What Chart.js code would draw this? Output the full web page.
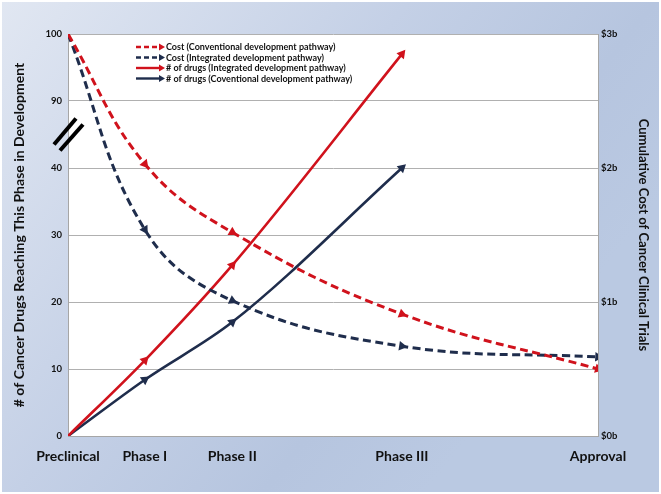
<!DOCTYPE html>
<html>
<head>
<meta charset="utf-8">
<script src="https://cdn.jsdelivr.net/npm/chart.js@4/dist/chart.umd.min.js"></script>
<style>
  html, body { margin: 0; padding: 0; background: #fff; }
  #wrap { width: 661px; height: 494px; }
</style>
</head>
<body>
<div id="wrap"><canvas id="pipelineChart" width="661" height="494"></canvas></div>
<script>
/* ------------------------------------------------------------
   Data
   ------------------------------------------------------------ */
const stages = ['Preclinical', 'Phase I', 'Phase II', 'Phase III', 'Approval'];
const stagePos = [0, 14.5, 31, 63, 100];               // relative place on the timeline
const yTickLabels = ['0', '10', '20', '30', '40', '90', '100'];
const costTickLabels = ['$0b', '$1b', '$2b', '$3b'];

const costConventional = [3.0, 2.03, 1.52, 0.91, 0.5];   // $ billions
const costIntegrated   = [3.0, 1.54, 1.01, 0.67, 0.59];
const drugsIntegrated   = [0, 11.3, 25.5, 97];          // # of drugs (Preclinical..Phase III)
const drugsConventional = [0, 8.4, 17.0, 40];

const RED = '#d0121c';
const NAVY = '#1f2d4c';
const FONT = "'Lato', 'Liberation Sans', sans-serif";

// left axis is broken between 40 and 90
const toBroken = v => (v <= 40 ? v : v - 40);

const toPoints = (vals, fn) => vals.map((v, i) => ({ x: stagePos[i], y: fn ? fn(v) : v }));

/* arrow head rotation follows the line direction */
function arrowRotation(ctx) {
  if (ctx.dataIndex === undefined) return 0;
  const chart = ctx.chart;
  const ds = chart.data.datasets[ctx.datasetIndex];
  const xs = chart.scales.x, ys = chart.scales[ds.yAxisID];
  if (!xs || !ys) return 0;
  const d = ds.data, i = ctx.dataIndex;
  const a = d[Math.max(i - 1, 0)], b = d[Math.min(i + 1, d.length - 1)];
  const dx = xs.getPixelForValue(b.x) - xs.getPixelForValue(a.x);
  const dy = ys.getPixelForValue(b.y) - ys.getPixelForValue(a.y);
  return Math.atan2(dy, dx) * 180 / Math.PI + 90;
}

function series(label, data, color, dashed, axis) {
  return {
    label: label,
    data: data,
    yAxisID: axis,
    borderColor: color,
    backgroundColor: color,
    borderWidth: dashed ? 3 : 2.6,
    borderDash: dashed ? [8, 4.5] : [],
    tension: dashed ? 0.4 : 0,
    cubicInterpolationMode: dashed ? 'default' : 'monotone',
    pointStyle: 'triangle',
    pointRadius: c => (c.dataIndex === 0 ? 0 : 5.5),
    pointRotation: arrowRotation,
    pointBorderWidth: 0,
    dashed: dashed
  };
}

/* ------------------------------------------------------------
   Plugins: background, break marks, legend
   ------------------------------------------------------------ */
const backdrop = {
  id: 'backdrop',
  beforeDraw(chart) {
    const { ctx, width, height, chartArea: a } = chart;
    ctx.save();
    ctx.fillStyle = '#ffffff';
    ctx.fillRect(0, 0, width, height);
    const g = ctx.createLinearGradient(0, 0, 500, 400);
    g.addColorStop(0, '#e1e7f2');
    g.addColorStop(0.5, '#c4d0e6');
    g.addColorStop(0.8, '#b6c5df');
    g.addColorStop(1, '#bac9e2');
    ctx.fillStyle = g;
    ctx.fillRect(2, 2, width - 4, height - 4);
    ctx.fillStyle = '#ffffff';
    ctx.fillRect(a.left, a.top, a.right - a.left, a.bottom - a.top);
    ctx.restore();
  }
};

const axisBreak = {
  id: 'axisBreak',
  afterDraw(chart) {
    const { ctx } = chart;
    const y = chart.scales.y.getPixelForValue(45);
    const x = chart.scales.y.right;
    ctx.save();
    ctx.strokeStyle = '#000';
    ctx.lineWidth = 4;
    [[-14, 10, 8, -16], [-8, 16, 15, -10]].forEach(s => {
      ctx.beginPath();
      ctx.moveTo(x + s[0], y + s[1]);
      ctx.lineTo(x + s[2], y + s[3]);
      ctx.stroke();
    });
    ctx.restore();
  }
};

const arrowLegend = {
  id: 'arrowLegend',
  afterDraw(chart) {
    const { ctx } = chart;
    const x0 = 136, x1 = 160, tx = 166;
    let y = 47;
    ctx.save();
    ctx.font = 'bold 9px ' + FONT;
    ctx.textBaseline = 'middle';
    chart.data.datasets.forEach(ds => {
      ctx.strokeStyle = ds.borderColor;
      ctx.fillStyle = ds.borderColor;
      ctx.lineWidth = 2.4;
      ctx.setLineDash(ds.dashed ? [5, 3] : []);
      ctx.beginPath();
      ctx.moveTo(x0, y);
      ctx.lineTo(x1, y);
      ctx.stroke();
      ctx.setLineDash([]);
      ctx.beginPath();
      ctx.moveTo(x1 - 1, y - 3.5);
      ctx.lineTo(x1 + 5, y);
      ctx.lineTo(x1 - 1, y + 3.5);
      ctx.closePath();
      ctx.fill();
      ctx.fillStyle = '#111';
      ctx.fillText(ds.label, tx, y + 0.5);
      y += 10.5;
    });
    ctx.restore();
  }
};

/* ------------------------------------------------------------
   Chart
   ------------------------------------------------------------ */
new Chart(document.getElementById('pipelineChart'), {
  type: 'line',
  data: {
    datasets: [
      series('Cost (Conventional development pathway)', toPoints(costConventional), RED, true, 'y2'),
      series('Cost (Integrated development pathway)', toPoints(costIntegrated), NAVY, true, 'y2'),
      series('# of drugs (Integrated development pathway)', toPoints(drugsIntegrated, toBroken), RED, false, 'y'),
      series('# of drugs (Coventional development pathway)', toPoints(drugsConventional, toBroken), NAVY, false, 'y')
    ]
  },
  options: {
    responsive: false,
    animation: false,
    devicePixelRatio: 1,
    events: [],
    layout: { padding: { top: 34, left: 0, right: 0, bottom: 0 } },
    plugins: { legend: { display: false }, tooltip: { enabled: false } },
    scales: {
      x: {
        type: 'linear',
        min: 0,
        max: 100,
        afterBuildTicks: s => { s.ticks = stagePos.map(v => ({ value: v })); },
        afterFit: s => { s.height = 58; },
        grid: { display: false, drawTicks: false },
        border: { display: true, color: '#a6a6a6' },
        ticks: {
          autoSkip: false,
          maxRotation: 0,
          padding: 12,
          color: '#111',
          font: { family: FONT, size: 14, weight: 'bold' },
          callback: (v, i) => stages[i]
        }
      },
      y: {
        position: 'left',
        min: 0,
        max: 60,
        afterBuildTicks: s => { s.ticks = yTickLabels.map((t, i) => ({ value: i * 10 })); },
        afterFit: s => { s.width = 68; },
        grid: { color: '#b0b0b0', drawTicks: false },
        border: { display: true, color: '#a6a6a6' },
        ticks: {
          padding: 6,
          color: '#111',
          font: { family: FONT, size: 9.5, weight: 'bold' },
          callback: (v, i) => yTickLabels[i]
        },
        title: {
          display: true,
          text: '# of Cancer Drugs Reaching This Phase in Development',
          color: '#111',
          padding: { top: 11, bottom: 0 },
          font: { family: FONT, size: 14, weight: 'bold' }
        }
      },
      y2: {
        position: 'right',
        min: 0,
        max: 3,
        afterBuildTicks: s => { s.ticks = costTickLabels.map((t, i) => ({ value: i })); },
        afterFit: s => { s.width = 63; },
        grid: { display: false, drawTicks: false },
        border: { display: true, color: '#a6a6a6' },
        ticks: {
          padding: 3,
          color: '#111',
          font: { family: FONT, size: 9.5, weight: 'bold' },
          callback: (v, i) => costTickLabels[i]
        },
        title: {
          display: true,
          text: 'Cumulative Cost of Cancer Clinical Trials',
          color: '#111',
          padding: { top: 10, bottom: 0 },
          font: { family: FONT, size: 13, weight: 'bold' }
        }
      }
    }
  },
  plugins: [backdrop, axisBreak, arrowLegend]
});
</script>
</body>
</html>
